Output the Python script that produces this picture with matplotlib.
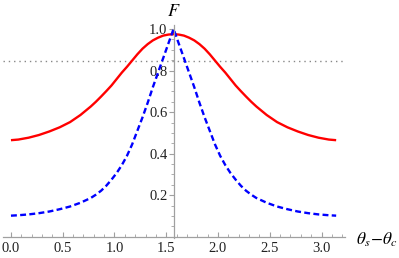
import numpy as np
import matplotlib
matplotlib.use("Agg")
import matplotlib.pyplot as plt
from matplotlib.ticker import MultipleLocator, FixedLocator

plt.rcParams['mathtext.fontset'] = 'stix'
plt.rcParams['font.family'] = ['Liberation Serif', 'DejaVu Serif']

# distance from the peak, |theta_s - theta_c - pi/2|, both curves are symmetric
offset = [0.0, 0.05, 0.1, 0.15, 0.2, 0.25, 0.3, 0.35, 0.4, 0.45, 0.5, 0.55,
          0.6, 0.65, 0.7, 0.75, 0.8, 0.9, 1.0, 1.1, 1.2, 1.3, 1.4, 1.5,
          np.pi / 2]
# red solid curve
red_F = [0.975, 0.973, 0.968, 0.958, 0.945, 0.927, 0.905, 0.878, 0.848, 0.818,
         0.79, 0.759, 0.728, 0.701, 0.675, 0.65, 0.627, 0.586, 0.552, 0.527,
         0.507, 0.49, 0.477, 0.468, 0.465]
# blue dashed curve
blue_F = [1.0, 0.93, 0.86, 0.79, 0.72, 0.645, 0.575, 0.51, 0.445, 0.39,
          0.345, 0.307, 0.275, 0.246, 0.222, 0.203, 0.187, 0.164, 0.146,
          0.133, 0.122, 0.114, 0.108, 0.104, 0.102]
threshold = 0.844

xticks = [0.0, 0.5, 1.0, 1.5, 2.0, 2.5, 3.0]
yticks = [0.2, 0.4, 0.6, 0.8, 1.0]

d = np.array(offset)
x = np.concatenate([np.pi / 2 - d[::-1], np.pi / 2 + d[1:]])
red = np.concatenate([np.array(red_F)[::-1], np.array(red_F)[1:]])
blue = np.concatenate([np.array(blue_F)[::-1], np.array(blue_F)[1:]])

fig = plt.figure(figsize=(3.99, 2.58), dpi=100)
ax = fig.add_axes([3 / 399, (258 - 237.7) / 258, 342 / 399, 212.7 / 258])

ax.axhline(threshold, color='#888888', lw=1.0, ls=(0, (1, 2.8)))
ax.plot(x, red, color='#ff0000', lw=1.7, solid_capstyle='butt')
ax.plot(x, blue, color='#0000ff', lw=1.7, ls=(0, (2.5, 1.4)))

ax.set_xlim(-0.077, 3.227)
ax.set_ylim(-0.004, 1.019)

for s in ['top', 'right']:
    ax.spines[s].set_visible(False)
ax.spines['left'].set_position(('data', np.pi / 2))
ax.spines['bottom'].set_position(('data', 0))
for s in ['left', 'bottom']:
    ax.spines[s].set_color('#a0a0a0')
    ax.spines[s].set_linewidth(0.9)

ax.xaxis.set_major_locator(FixedLocator(xticks))
ax.xaxis.set_minor_locator(MultipleLocator(0.1))
ax.yaxis.set_major_locator(FixedLocator(yticks))
ax.yaxis.set_minor_locator(MultipleLocator(0.05))
ax.set_xticklabels(['%.1f' % t for t in xticks])
ax.set_yticklabels(['%.1f' % t for t in yticks])

ax.tick_params(axis='x', which='both', direction='in', color='#a0a0a0',
               labelsize=10.5, labelcolor='#222222', pad=4)
ax.tick_params(axis='x', which='major', length=3.5, width=0.8)
ax.tick_params(axis='x', which='minor', length=2, width=0.6)
ax.tick_params(axis='y', which='both', direction='out', color='#a0a0a0',
               labelsize=10.5, labelcolor='#222222', pad=1)
ax.tick_params(axis='y', which='major', length=3.5, width=0.8)
ax.tick_params(axis='y', which='minor', length=2, width=0.6)

fig.text(173.5 / 399, 1 - 11 / 258, '$F$', fontsize=13, ha='center', va='center')
fig.text(356 / 399, 1 - 240 / 258, r'$\theta_s\!-\!\theta_c$', fontsize=12.5,
         ha='left', va='center')

fig.savefig('out.png', dpi=100)
